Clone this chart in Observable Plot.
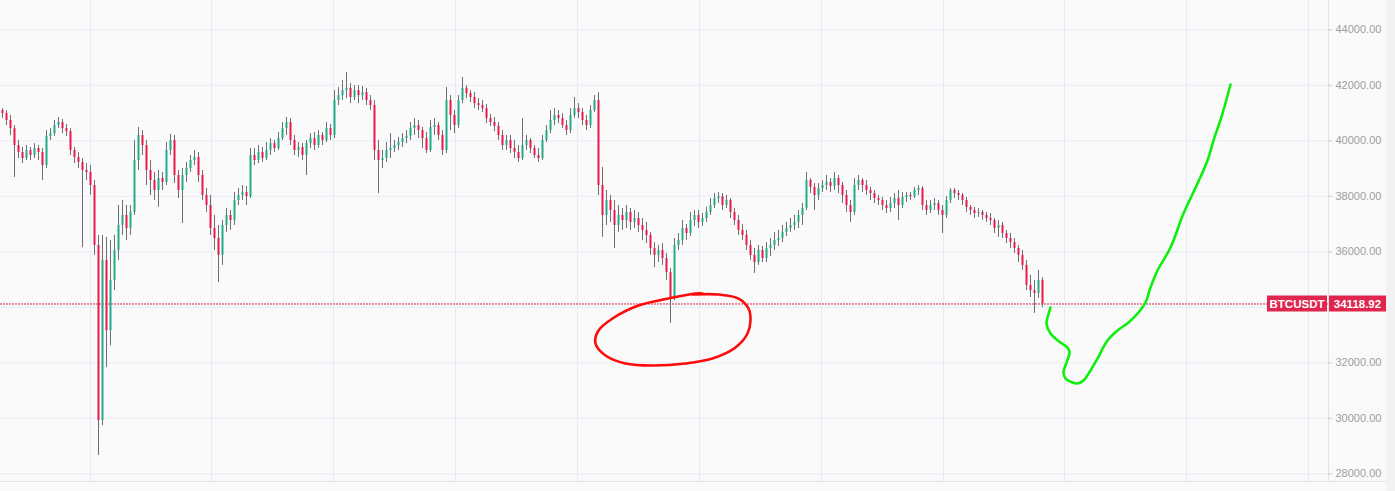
<!DOCTYPE html>
<html><head><meta charset="utf-8">
<script src="https://cdn.jsdelivr.net/npm/d3@7"></script>
<script src="https://cdn.jsdelivr.net/npm/@observablehq/plot@0.6"></script>
<style>
html,body{margin:0;padding:0;background:#f2f2f2;}
#chart{width:1395px;height:491px;overflow:hidden;}
#chart svg{display:block;}
</style></head><body><div id="chart"></div>
<script>
const symbol = "BTCUSDT";
const lastPrice = 34118.92;
const priceTicks = [28000, 30000, 32000, 34000, 36000, 38000, 40000, 42000, 44000];
const timeGridBars = [22, 52.25, 82.75, 113.25, 143.75, 174.25, 204.75, 235.25, 265.5, 296, 326.5];
// [open, high, low, close]
const ohlc = [
[41090,41160,40800,40980],[40980,41090,40550,40730],[40730,40910,40190,40440],[40440,40550,38680,39830],
[39830,40010,39360,39580],[39580,39760,39180,39360],[39360,39830,39290,39650],[39650,39760,39290,39470],
[39470,39900,39360,39720],[39720,39830,39290,39580],[39580,39720,38570,39110],[39110,40370,39000,40160],
[40160,40440,40010,40260],[40260,40730,40160,40550],[40550,40840,40440,40660],[40660,40770,40260,40440],
[40440,40590,40160,40330],[40330,40440,39470,39650],[39650,39760,39180,39400],[39400,39580,39000,39220],
[39220,39360,36150,38930],[38930,39180,38570,38860],[38860,39110,38030,38390],[38390,38570,35870,36230],
[36230,36590,28660,29920],[29920,36590,29740,35690],[35690,36520,31830,33160],[33160,36410,32620,34970],
[34970,36590,34600,36050],[36050,37670,35690,36950],[36950,37850,36590,37310],[37310,37670,36410,36840],
[36840,37670,36590,37420],[37420,40010,37310,39290],[39290,40480,38930,40190],[40190,40370,39470,39830],
[39830,40010,38390,38930],[38930,39290,38030,38570],[38570,38860,37850,38210],[38210,38930,37600,38640],
[38640,38860,38210,38500],[38500,39940,38390,39650],[39650,40230,39470,40010],[40010,40190,38460,38750],
[38750,38930,37920,38210],[38210,39000,37020,38750],[38750,39220,38500,39000],[39000,39470,38860,39290],
[39290,39650,39110,39400],[39400,39580,38500,38750],[38750,38930,37850,38030],[38030,38280,37420,37670],
[37670,38030,36590,36840],[36840,37310,36050,36480],[36480,36950,34890,35870],[35870,37130,35510,36950],
[36950,37560,36700,37310],[37310,37490,36770,37130],[37130,38140,36950,37850],[37850,38280,37670,38030],
[38030,38390,37850,38140],[38140,38350,37670,37990],[37990,39720,37920,39470],[39470,39720,39110,39290],
[39290,39830,39180,39580],[39580,39760,39220,39360],[39360,39940,39290,39650],[39650,40080,39470,39900],
[39900,40010,39580,39720],[39720,40300,39650,40080],[40080,40660,40010,40440],[40440,40840,40190,40660],
[40660,40800,39830,40010],[40010,40190,39470,39650],[39650,39940,39400,39760],[39760,39900,39290,39470],
[39470,40010,38750,39900],[39900,40260,39720,40080],[40080,40300,39650,39830],[39830,40370,39720,40190],
[40190,40300,39830,40010],[40010,40660,39940,40440],[40440,40590,40010,40190],[40190,41810,40080,41450],
[41450,41920,41270,41630],[41630,42170,41450,41810],[41810,42460,41520,41890],[41890,42060,41340,41560],
[41560,41990,41450,41810],[41810,41990,41340,41630],[41630,41960,41450,41740],[41740,41890,41270,41450],
[41450,41630,41090,41270],[41270,41450,39290,39650],[39650,40010,38100,39290],[39290,39650,39000,39360],
[39360,39940,39220,39650],[39650,40260,39360,39720],[39720,40010,39580,39830],[39830,40120,39650,39940],
[39940,40260,39760,40080],[40080,40370,39900,40160],[40160,40660,40010,40440],[40440,40800,40190,40550],
[40550,40730,40080,40370],[40370,40480,39720,40080],[40080,40300,39540,39650],[39650,40730,39580,40480],
[40480,40800,40190,40550],[40550,40660,40010,40190],[40190,40370,39470,39650],[39650,41920,39540,41450],
[41450,41630,40370,40910],[40910,41090,40260,40550],[40550,41630,40440,41450],[41450,42280,41340,41890],
[41890,41990,41520,41700],[41700,41810,41380,41560],[41560,41740,41160,41340],[41340,41520,41090,41270],
[41270,41450,41020,41160],[41160,41310,40620,40800],[40800,40950,40520,40660],[40660,40840,40330,40520],
[40520,40660,40010,40190],[40190,40370,39650,39830],[39830,40190,39650,40010],[40010,40190,39540,39720],
[39720,40010,39360,39580],[39580,39830,39220,39360],[39360,40800,39290,39830],[39830,40190,39650,40010],
[40010,40080,39540,39720],[39720,39830,39360,39470],[39470,39720,39220,39360],[39360,40190,39290,40010],
[40010,40550,39940,40370],[40370,41090,40260,40730],[40730,41160,40550,40910],[40910,41090,40620,40800],
[40800,40980,40440,40550],[40550,40730,40190,40370],[40370,41160,40260,40910],[40910,41560,40800,41160],
[41160,41340,40800,41020],[41020,41160,40550,40730],[40730,40910,40370,40550],[40550,41270,40440,41090],
[41090,41630,41020,41450],[41450,41740,38030,38390],[38390,39040,36520,37310],[37310,38210,36950,37850],
[37850,38030,37060,37490],[37490,37850,36120,36950],[36950,37670,36700,37310],[37310,37560,36770,37130],
[37130,37670,36840,37420],[37420,37560,36770,37060],[37060,37490,36840,37200],[37200,37420,36700,36950],
[36950,37200,36410,36770],[36770,37060,36300,36590],[36590,36700,35870,36120],[36120,36330,35430,35870],
[35870,36230,35610,36050],[36050,36300,35510,35760],[35760,35940,34970,35250],[35250,35400,33420,34320],
[34320,36480,34240,36230],[36230,36660,36050,36410],[36410,37130,36230,36840],[36840,36980,36410,36660],
[36660,37420,36550,37130],[37130,37490,36910,37310],[37310,37490,36840,37060],[37060,37380,36910,37200],
[37200,37600,37060,37420],[37420,37920,37310,37670],[37670,38100,37560,37920],[37920,38140,37740,37990],
[37990,38100,37490,37670],[37670,38030,37560,37850],[37850,37920,37200,37420],[37420,37560,36950,37130],
[37130,37310,36590,36770],[36770,36980,36410,36590],[36590,36770,36050,36230],[36230,36410,35690,35870],
[35870,36120,35220,35610],[35610,36230,35510,36050],[36050,36190,35610,35760],[35760,36330,35610,36120],
[36120,36480,35830,36230],[36230,36700,36050,36410],[36410,36770,36190,36480],[36480,36950,36330,36700],
[36700,37060,36550,36840],[36840,37200,36700,36950],[36950,37310,36770,37060],[37060,37490,36840,37310],
[37310,37740,36950,37560],[37560,38860,37490,38570],[38570,38640,38100,38320],[38320,38460,37490,38030],
[38030,38460,37850,38280],[38280,38570,38140,38390],[38390,38750,38210,38500],[38500,38640,38140,38350],
[38350,38860,38210,38640],[38640,38750,38100,38390],[38390,38500,37740,38030],[38030,38210,37420,37670],
[37670,37850,37060,37420],[37420,38640,37310,38390],[38390,38750,38210,38570],[38570,38640,38140,38390],
[38390,38570,38030,38210],[38210,38320,37850,38100],[38100,38210,37740,37920],[37920,38030,37670,37850],
[37850,37960,37490,37670],[37670,37850,37380,37560],[37560,37960,37420,37740],[37740,38100,37560,37920],
[37920,38210,37130,37670],[37670,38140,37560,37960],[37960,38140,37780,38030],[38030,38140,37850,37990],
[37990,38320,37920,38210],[38210,38390,38030,38280],[38280,38350,37490,37670],[37670,37850,37310,37490],
[37490,37850,37380,37670],[37670,37920,37490,37740],[37740,37850,37310,37490],[37490,37670,36660,37310],
[37310,37990,37200,37850],[37850,38280,37740,38210],[38210,38280,37920,38100],[38100,38210,37850,38030],
[38030,38100,37670,37850],[37850,37960,37420,37600],[37600,37670,37310,37490],[37490,37600,37200,37380],
[37380,37560,37240,37420],[37420,37490,37130,37310],[37310,37420,37060,37200],[37200,37380,36950,37130],
[37130,37200,36660,36840],[36840,37130,36520,36950],[36950,37060,36480,36660],[36660,36770,36300,36480],
[36480,36660,36120,36330],[36330,36480,35940,36120],[36120,36230,35610,35870],[35870,36050,35330,35510],
[35510,35690,34600,34790],[34790,35150,34350,34600],[34600,34970,33780,34500],[34500,35330,34320,34970],
[34970,35070,33990,34118.92]
];
// hand drawings: [bar, price]
const redLoop = [
[172.5,34460],[179,34460],[184,34316],[186.5,33956],[187,33523],[186.25,33055],[183.25,32550],
[177.5,32154],[170.75,31974],[162.5,31901],[155.75,31974],[150.75,32262],[148.25,32694],[149,33163],
[152.5,33595],[159,34064],[166.5,34316],[173.25,34496],[175,34496]
];
const greenPath = [
[262,33990],[261.25,33630],[261,33415],[262,33055],[264.5,32730],[266.25,32550],[266.75,32370],
[266,32010],[265.25,31650],[265.75,31433],[267.5,31289],[268.75,31253],[270.25,31361],[272,31721],
[273.75,32154],[276.25,32802],[278.75,33163],[281.5,33451],[284,33812],[285.75,34172],[287,34712],
[288.75,35325],[292,36154],[295.25,37380],[298.75,38461],[301.25,39290],[302.75,40010],[305,40983],[307,42029]
];

const UP = "#22ab8a", DOWN = "#e8194a", WICK = "#6f6f72", RED = "#e0264d";
const candles = ohlc.map(([o, h, l, c], i) => ({i, o, h, l, c, col: c >= o ? UP : DOWN}));
const xMax = 331.5;
// tick labels hidden behind the last-price label (as on the reference)
const visibleTickLabels = priceTicks.filter(t => Math.abs(t - lastPrice) > 400);

const chart = Plot.plot({
  width: 1386, height: 491,
  marginTop: 0, marginLeft: 0, marginRight: 0, marginBottom: 10,
  style: {background: "#fafafa", overflow: "visible"},
  x: {domain: [-0.5, xMax], range: [0, 1328], axis: null},
  y: {domain: [28000, 44000], range: [473.3, 29.3], axis: null},
  marks: [
    Plot.ruleX(timeGridBars, {stroke: "#e4edf5", strokeWidth: 1}),
    Plot.ruleY(priceTicks, {x1: -0.5, x2: xMax, stroke: "#e4edf5"}),
    Plot.ruleX([xMax], {stroke: "#e2e2e2"}),
    Plot.ruleY(visibleTickLabels, {x1: xMax, x2: xMax + 1.1, stroke: "#c9c9c9"}),
    Plot.text(visibleTickLabels, {x: xMax, y: d => d, text: d => d.toFixed(2), dx: 7, textAnchor: "start",
      fill: "#9d9d9d", fontSize: 11, fontFamily: "Liberation Sans, Arial, sans-serif"}),
    Plot.ruleY([lastPrice], {x1: -0.5, x2: xMax, stroke: "#d42042", strokeDasharray: "2,1", strokeWidth: 1}),
    Plot.ruleX(candles, {x: "i", y1: "l", y2: "h", stroke: WICK, strokeWidth: 1}),
    Plot.ruleX(candles, {x: "i", y1: "o", y2: "c", stroke: "col", strokeWidth: 2}),
    Plot.line(redLoop, {x: d => d[0], y: d => d[1], stroke: "#ff0a0a", strokeWidth: 2.6, curve: "catmull-rom",
      strokeLinecap: "round", strokeLinejoin: "round"}),
    Plot.line(greenPath, {x: d => d[0], y: d => d[1], stroke: "#0cf00c", strokeWidth: 2.6, curve: "catmull-rom",
      strokeLinecap: "round", strokeLinejoin: "round"})
  ]
});
document.getElementById("chart").appendChild(chart);

// last-price labels positioned from the scales
const sx = chart.scale("x"), sy = chart.scale("y");
const svg = d3.select(chart);
const axisX = sx.apply(xMax);
const py = sy.apply(lastPrice);
svg.append("line").attr("x1", 0).attr("x2", 1386).attr("y1", 481.5).attr("y2", 481.5).attr("stroke", "#e2e2e2");
const g = svg.append("g").attr("font-family", "Liberation Sans, Arial, sans-serif").attr("font-weight", "bold").attr("font-size", 11.5);
g.append("rect").attr("x", axisX - 61).attr("y", py - 8).attr("width", 60).attr("height", 16).attr("fill", RED);
g.append("text").attr("x", axisX - 31).attr("y", py).attr("dy", "0.36em").attr("text-anchor", "middle").attr("fill", "#fff").text(symbol);
g.append("rect").attr("x", axisX + 1).attr("y", py - 8).attr("width", 57).attr("height", 16).attr("fill", RED);
g.append("text").attr("x", axisX + 29.5).attr("y", py).attr("dy", "0.36em").attr("text-anchor", "middle").attr("fill", "#fff").text(lastPrice.toFixed(2));
</script></body></html>
